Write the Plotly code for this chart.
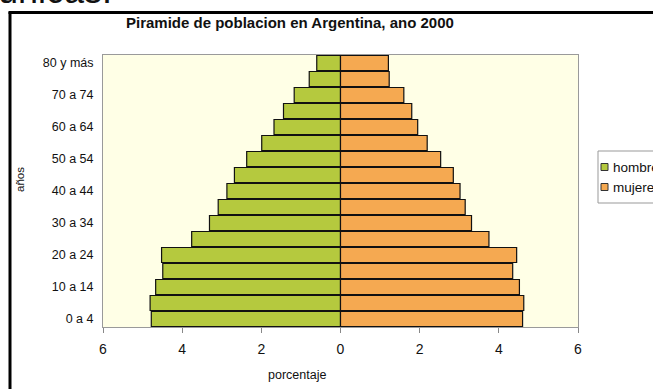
import plotly.graph_objects as go

categories = ["0 a 4", "5 a 9", "10 a 14", "15 a 19", "20 a 24", "25 a 29", "30 a 34",
              "35 a 39", "40 a 44", "45 a 49", "50 a 54", "55 a 59", "60 a 64",
              "65 a 69", "70 a 74", "75 a 79", "80 y más"]
hombres = [4.78, 4.81, 4.67, 4.49, 4.52, 3.76, 3.31, 3.09, 2.87, 2.68, 2.37, 1.99, 1.68,
           1.44, 1.17, 0.79, 0.60]
mujeres = [4.60, 4.63, 4.52, 4.35, 4.45, 3.75, 3.31, 3.15, 3.02, 2.85, 2.53, 2.19, 1.95,
           1.80, 1.60, 1.23, 1.21]
series_names = ["hombres", "mujeres"]
series_colors = ["#B5C93E", "#F5A951"]
ytick_labels = ["0 a 4", "10 a 14", "20 a 24", "30 a 34", "40 a 44", "50 a 54",
                "60 a 64", "70 a 74", "80 y más"]
xtick_vals = [-6, -4, -2, 0, 2, 4, 6]
xtick_text = ["6", "4", "2", "0", "2", "4", "6"]

W, H = 653, 389
L, R, T, B = 103, 578, 55, 327


def px(x):
    return (x - L) / (R - L)


def py(y):
    return (B - y) / (B - T)


FONT = "Liberation Sans, Arial, sans-serif"

fig = go.Figure()
fig.add_trace(go.Bar(y=categories, x=[-v for v in hombres], orientation="h", name=series_names[0],
                     marker=dict(color=series_colors[0], line=dict(color="#111111", width=1.2))))
fig.add_trace(go.Bar(y=categories, x=mujeres, orientation="h", name=series_names[1],
                     marker=dict(color=series_colors[1], line=dict(color="#111111", width=1.2))))

fig.update_layout(
    width=W, height=H,
    margin=dict(l=L, r=W - R, t=T, b=H - B, autoexpand=False),
    paper_bgcolor="white", plot_bgcolor="#FFFFE6",
    barmode="overlay", bargap=0.06,
    showlegend=False,
    font=dict(family=FONT, color="#111"),
)
fig.update_xaxes(range=[-6, 6], tickvals=xtick_vals, ticktext=xtick_text,
                 ticks="outside", ticklen=5, tickcolor="#888", showgrid=False, zeroline=False,
                 showline=True, linecolor="#9a9a9a", linewidth=1, mirror=True,
                 ticklabelstandoff=4,
                 tickfont=dict(family=FONT, size=14, color="#111"))
fig.update_yaxes(categoryorder="array", categoryarray=categories,
                 tickvals=ytick_labels, ticktext=ytick_labels, showgrid=False, zeroline=False,
                 showline=True, linecolor="#9a9a9a", linewidth=1, mirror=True, ticks="",
                 ticklabelstandoff=6,
                 tickfont=dict(family=FONT, size=12.5, color="#111"))

fig.add_annotation(text="<b>Piramide de poblacion en Argentina, ano 2000</b>", x=px(290), y=py(22),
                   xref="paper", yref="paper", showarrow=False, xanchor="center", yanchor="middle",
                   font=dict(family=FONT, size=15, color="#111"))
fig.add_annotation(text="porcentaje", x=px(297), y=py(375), xref="paper", yref="paper",
                   showarrow=False, xanchor="center", yanchor="middle",
                   font=dict(family=FONT, size=12.5, color="#111"))
fig.add_annotation(text="años", x=px(20), y=py(180), xref="paper", yref="paper",
                   showarrow=False, textangle=-90, xanchor="center", yanchor="middle",
                   font=dict(family=FONT, size=11.5, color="#111"))
fig.add_annotation(text="únicas.", x=px(-4), y=py(12.5), xref="paper", yref="paper",
                   xanchor="left", yanchor="bottom", showarrow=False,
                   font=dict(family=FONT, size=36, color="#111"))

# legend box (manual, to match the small swatches of the reference)
fig.add_shape(type="rect", xref="paper", yref="paper", x0=px(598), x1=px(670), y0=py(151), y1=py(203),
              line=dict(color="#999999", width=1), fillcolor="white")
for i, (name, col) in enumerate(zip(series_names, series_colors)):
    yc = 167 + 20 * i
    fig.add_shape(type="rect", xref="paper", yref="paper", x0=px(601), x1=px(608),
                  y0=py(yc - 3.5), y1=py(yc + 3.5), line=dict(color="#333", width=1), fillcolor=col)
    fig.add_annotation(text=name, x=px(611), y=py(yc), xref="paper", yref="paper",
                       xanchor="left", yanchor="middle", showarrow=False,
                       font=dict(family=FONT, size=13.5, color="#111"))

fig.add_shape(type="line", xref="paper", yref="paper", x0=px(10), x1=px(10), y0=py(12), y1=py(395),
              line=dict(color="black", width=3))
fig.add_shape(type="line", xref="paper", yref="paper", x0=px(8.5), x1=px(660), y0=py(12.5), y1=py(12.5),
              line=dict(color="black", width=3))

fig.write_html("out.html")
